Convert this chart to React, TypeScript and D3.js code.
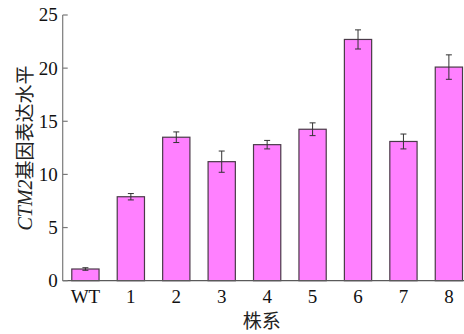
import React from 'react';
import * as d3 from 'd3';

// strains on the x axis
const strains = ['WT', '1', '2', '3', '4', '5', '6', '7', '8'];
// relative CTM2 expression level
const expression = [1.1, 7.9, 13.5, 11.2, 12.8, 14.25, 22.7, 13.1, 20.1];
// error (± half range)
const errors = [0.12, 0.3, 0.5, 1.0, 0.4, 0.6, 0.9, 0.7, 1.15];
const yTicks = [0, 5, 10, 15, 20, 25];

const W = 464, H = 334;
const serif = '"Liberation Serif", "Times New Roman", serif';
const cjk = '"Noto Sans CJK SC", sans-serif';

const App = () => {
  const x0 = 62.7;
  const x = d3.scaleBand<string>()
    .domain(strains)
    .range([x0, 471.6])
    .paddingInner(0.4)
    .paddingOuter(0.2);
  const y = d3.scaleLinear().domain([0, 25]).range([280.7, 15]);

  const capW = 6;

  return (
    <svg width={W} height={H} style={{ position: 'absolute', left: 0, top: 0, background: '#fff' }}>
      {/* bars */}
      {strains.map((s, i) => (
        <rect key={s}
          x={x(s)} y={y(expression[i])}
          width={x.bandwidth()} height={y(0) - y(expression[i])}
          fill="#ff80ff" stroke="#4a3a48" strokeWidth={1.2} />
      ))}
      {/* error bars */}
      {strains.map((s, i) => {
        const cx = (x(s) as number) + x.bandwidth() / 2;
        const hi = y(expression[i] + errors[i]);
        const lo = y(expression[i] - errors[i]);
        return (
          <g key={'e' + s} stroke="#333" strokeWidth={1}>
            <line x1={cx} x2={cx} y1={hi} y2={lo} />
            <line x1={cx - capW / 2} x2={cx + capW / 2} y1={hi} y2={hi} />
            <line x1={cx - capW / 2} x2={cx + capW / 2} y1={lo} y2={lo} />
          </g>
        );
      })}
      {/* axes */}
      <line x1={x0} x2={x0} y1={y(25)} y2={y(0)} stroke="#7a7a7a" strokeWidth={1.2} />
      <line x1={x0} x2={W} y1={y(0)} y2={y(0)} stroke="#5a5a5a" strokeWidth={1.2} />
      {yTicks.map(t => (
        <g key={t}>
          <line x1={x0} x2={x0 + 5} y1={y(t)} y2={y(t)} stroke="#7a7a7a" strokeWidth={1.2} />
          <text x={x0 - 5} y={y(t)} dy="0.34em" textAnchor="end"
            fontFamily={serif} fontSize={19} fill="#111">{t}</text>
        </g>
      ))}
      {strains.map(s => (
        <text key={'l' + s} x={(x(s) as number) + x.bandwidth() / 2} y={303}
          textAnchor="middle" fontFamily={serif} fontSize={19} fill="#111">{s}</text>
      ))}
      {/* axis titles */}
      <text x={261.7} y={328} textAnchor="middle" fontFamily={cjk} fontSize={19} fill="#222">株系</text>
      <text transform="translate(32,148) rotate(-90)" textAnchor="middle" fontSize={19} fill="#222">
        <tspan fontFamily={serif} fontStyle="italic" fontSize={20}>CTM2</tspan>
        <tspan fontFamily={cjk}>基因表达水平</tspan>
      </text>
    </svg>
  );
};

export default App;
